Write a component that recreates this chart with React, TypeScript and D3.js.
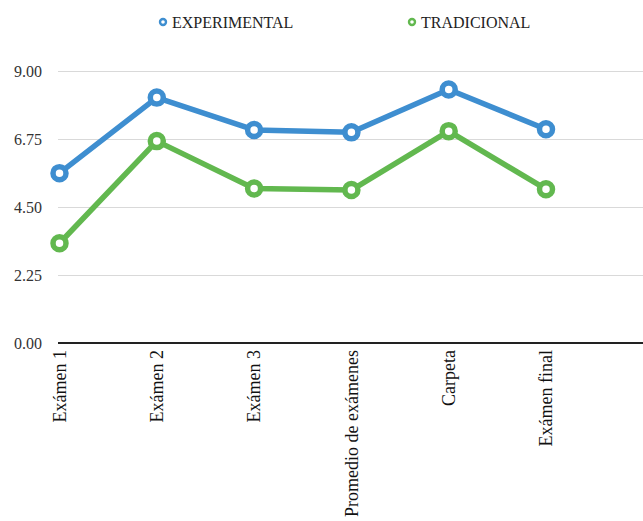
import React, { useEffect, useRef } from 'react';
import * as d3 from 'd3';

const categories = ['Exámen 1', 'Exámen 2', 'Exámen 3', 'Promedio de exámenes', 'Carpeta', 'Exámen final'];
const experimental = [5.62, 8.12, 7.05, 6.97, 8.39, 7.07];
const tradicional = [3.3, 6.68, 5.11, 5.06, 7.01, 5.09];
const yTicks = [0, 2.25, 4.5, 6.75, 9];
const seriesNames = ['EXPERIMENTAL', 'TRADICIONAL'];

const BLUE = '#3E8ED0';
const GREEN = '#62B84F';
const FONT = '"Liberation Serif", "Times New Roman", serif';

export default function App() {
  const ref = useRef<SVGSVGElement | null>(null);

  useEffect(() => {
    const width = 643;
    const height = 521;
    const plotLeft = 58;
    const plotRight = 643;

    const svg = d3.select(ref.current);
    svg.selectAll('*').remove();

    const x = d3.scalePoint<string>()
      .domain(categories)
      .range([59.5, 546]);

    const y = d3.scaleLinear()
      .domain([0, 9])
      .range([343, 71]);

    // gridlines + y labels
    const yAxis = d3.axisLeft(y)
      .tickValues(yTicks)
      .tickFormat(d3.format('.2f'))
      .tickSize(-(plotRight - plotLeft))
      .tickPadding(16);

    const gy = svg.append('g')
      .attr('transform', `translate(${plotLeft}, 0)`)
      .call(yAxis);
    gy.select('.domain').remove();
    gy.selectAll('.tick line')
      .attr('stroke', '#d9d9d9')
      .attr('stroke-width', 1);
    gy.selectAll('.tick text')
      .attr('font-family', FONT)
      .attr('font-size', 16)
      .attr('fill', '#333');

    // x baseline
    svg.append('line')
      .attr('x1', plotLeft)
      .attr('x2', plotRight)
      .attr('y1', y(0))
      .attr('y2', y(0))
      .attr('stroke', '#222')
      .attr('stroke-width', 2);

    // x labels, rotated
    svg.append('g')
      .selectAll('text')
      .data(categories)
      .enter()
      .append('text')
      .attr('transform', d => `translate(${x(d)}, 350) rotate(-90)`)
      .attr('text-anchor', 'end')
      .attr('dy', '0.35em')
      .attr('font-family', FONT)
      .attr('font-size', 18)
      .attr('fill', '#111')
      .text(d => d);

    const series = [
      { name: seriesNames[0], values: experimental, color: BLUE },
      { name: seriesNames[1], values: tradicional, color: GREEN },
    ];

    const line = d3.line<number>()
      .x((_, i) => x(categories[i]) as number)
      .y(d => y(d));

    series.forEach(s => {
      svg.append('path')
        .datum(s.values)
        .attr('d', line)
        .attr('fill', 'none')
        .attr('stroke', s.color)
        .attr('stroke-width', 5.5)
        .attr('stroke-linejoin', 'round');

      svg.append('g')
        .selectAll('circle')
        .data(s.values)
        .enter()
        .append('circle')
        .attr('cx', (_, i) => x(categories[i]) as number)
        .attr('cy', d => y(d))
        .attr('r', 6.5)
        .attr('fill', 'white')
        .attr('stroke', s.color)
        .attr('stroke-width', 5.5);
    });

    // legend
    const legendX = [163, 412];
    const legend = svg.append('g');
    series.forEach((s, i) => {
      legend.append('circle')
        .attr('cx', legendX[i])
        .attr('cy', 22)
        .attr('r', 3)
        .attr('fill', 'white')
        .attr('stroke', s.color)
        .attr('stroke-width', 2.4);
      legend.append('text')
        .attr('x', legendX[i] + 9)
        .attr('y', 28)
        .attr('font-family', FONT)
        .attr('font-size', 16)
        .attr('fill', '#222')
        .text(s.name);
    });

    svg.attr('width', width).attr('height', height);
  }, []);

  return (
    <div style={{ position: 'absolute', left: 0, top: 0 }}>
      <svg ref={ref} width={643} height={521} style={{ display: 'block', background: 'white' }} />
    </div>
  );
}
